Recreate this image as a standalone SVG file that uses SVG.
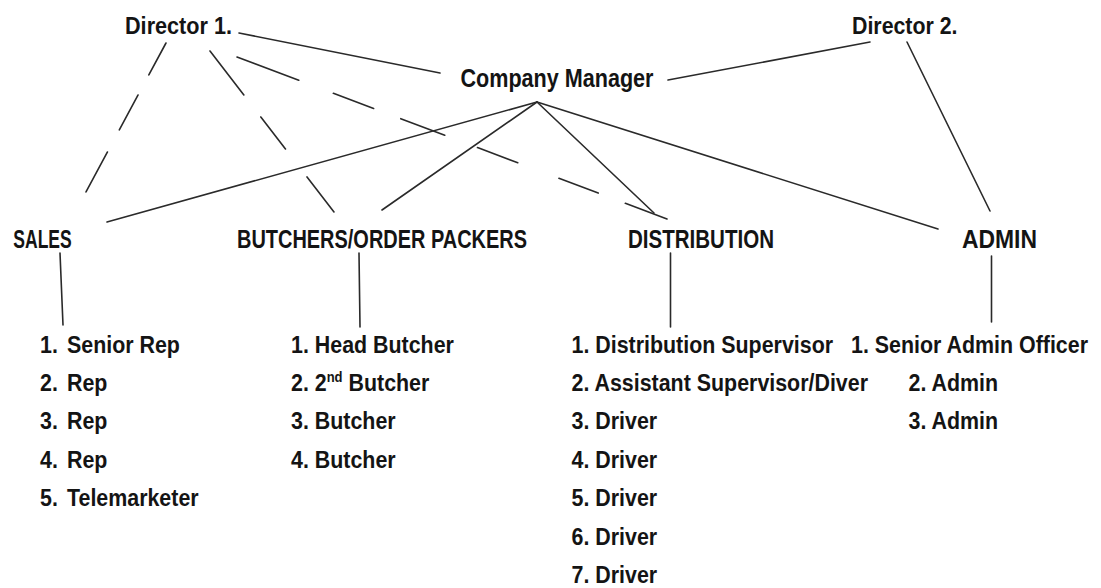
<svg xmlns="http://www.w3.org/2000/svg" width="1101" height="588" viewBox="0 0 1101 588">
<style>
text{font-family:"Liberation Sans",Arial,sans-serif;font-weight:bold;fill:#141414}
.h{font-size:20.5px}
.l{font-size:21.4px}
.c line{stroke:#2a2a2a;stroke-width:1.6;stroke-linecap:round;fill:none}
</style>
<rect width="1101" height="588" fill="#ffffff"/>
<g id="connectors" class="c">
<line x1="239" y1="33" x2="440" y2="73"/>
<line x1="668" y1="80" x2="870" y2="42"/>
<line x1="907" y1="42" x2="990" y2="211"/>
<line x1="537" y1="102" x2="107" y2="222"/>
<line x1="537" y1="102" x2="382" y2="210"/>
<line x1="537" y1="102" x2="654" y2="213"/>
<line x1="537" y1="102" x2="938" y2="229"/>
<line x1="166" y1="43" x2="86" y2="192" stroke-dasharray="36.3 22.7 39.7 25 45.4"/>
<line x1="210" y1="51" x2="334" y2="212" stroke-dasharray="55.5 27.8 40.4 35.3 44.2"/>
<line x1="237" y1="57" x2="667" y2="219" stroke-dasharray="66 37 43 29 47 35 43 44 42 29 45"/>
<line x1="60" y1="253" x2="63" y2="325"/>
<line x1="359" y1="253" x2="360" y2="327"/>
<line x1="670.5" y1="253" x2="670.5" y2="327"/>
<line x1="991.5" y1="256" x2="991.5" y2="322"/>
</g>
<g id="director1"><text class="h" transform="matrix(1 0 0 1.2 125 34)" textLength="107" lengthAdjust="spacingAndGlyphs">Director 1.</text></g>
<g id="director2"><text class="h" transform="matrix(1 0 0 1.2 852 34)" textLength="105.5" lengthAdjust="spacingAndGlyphs">Director 2.</text></g>
<g id="company-manager"><text class="h" transform="matrix(1 0 0 1.25 460.5 86.7)" textLength="193" lengthAdjust="spacingAndGlyphs">Company Manager</text></g>
<g id="sales">
<text class="h" transform="matrix(1 0 0 1.25 13.3 247.5)" textLength="58.4" lengthAdjust="spacingAndGlyphs">SALES</text>
<text class="l" transform="matrix(1 0 0 1.13 40 352.5)">1.</text><text class="l" transform="matrix(1 0 0 1.13 67 352.5)">Senior Rep</text>
<text class="l" transform="matrix(1 0 0 1.13 40 390.9)">2.</text><text class="l" transform="matrix(1 0 0 1.13 67 390.9)">Rep</text>
<text class="l" transform="matrix(1 0 0 1.13 40 429.3)">3.</text><text class="l" transform="matrix(1 0 0 1.13 67 429.3)">Rep</text>
<text class="l" transform="matrix(1 0 0 1.13 40 467.7)">4.</text><text class="l" transform="matrix(1 0 0 1.13 67 467.7)">Rep</text>
<text class="l" transform="matrix(1 0 0 1.13 40 506.1)">5.</text><text class="l" transform="matrix(1 0 0 1.13 67 506.1)">Telemarketer</text>
</g>
<g id="butchers">
<text class="h" transform="matrix(1 0 0 1.25 237 247.5)" textLength="290" lengthAdjust="spacingAndGlyphs">BUTCHERS/ORDER PACKERS</text>
<text class="l" transform="matrix(1 0 0 1.13 291 352.5)">1. Head Butcher</text>
<text class="l" transform="matrix(1 0 0 1.13 291 390.9)">2. 2<tspan dy="-8" style="font-size:13px">nd</tspan><tspan dy="8"> Butcher</tspan></text>
<text class="l" transform="matrix(1 0 0 1.13 291 429.3)">3. Butcher</text>
<text class="l" transform="matrix(1 0 0 1.13 291 467.7)">4. Butcher</text>
</g>
<g id="distribution">
<text class="h" transform="matrix(1 0 0 1.25 628 247.5)" textLength="146" lengthAdjust="spacingAndGlyphs">DISTRIBUTION</text>
<text class="l" transform="matrix(1 0 0 1.13 571.5 352.5)">1. Distribution Supervisor</text>
<text class="l" transform="matrix(1 0 0 1.13 571.5 390.9)">2. Assistant Supervisor/Diver</text>
<text class="l" transform="matrix(1 0 0 1.13 571.5 429.3)">3. Driver</text>
<text class="l" transform="matrix(1 0 0 1.13 571.5 467.7)">4. Driver</text>
<text class="l" transform="matrix(1 0 0 1.13 571.5 506.1)">5. Driver</text>
<text class="l" transform="matrix(1 0 0 1.13 571.5 544.5)">6. Driver</text>
<text class="l" transform="matrix(1 0 0 1.13 571.5 582.9)">7. Driver</text>
</g>
<g id="admin">
<text class="h" transform="matrix(1 0 0 1.25 962 247.5)" textLength="75" lengthAdjust="spacingAndGlyphs">ADMIN</text>
<text class="l" transform="matrix(1 0 0 1.13 851 352.5)">1. Senior Admin Officer</text>
<text class="l" transform="matrix(1 0 0 1.13 908.5 390.9)">2. Admin</text>
<text class="l" transform="matrix(1 0 0 1.13 908.5 429.3)">3. Admin</text>
</g>
</svg>
